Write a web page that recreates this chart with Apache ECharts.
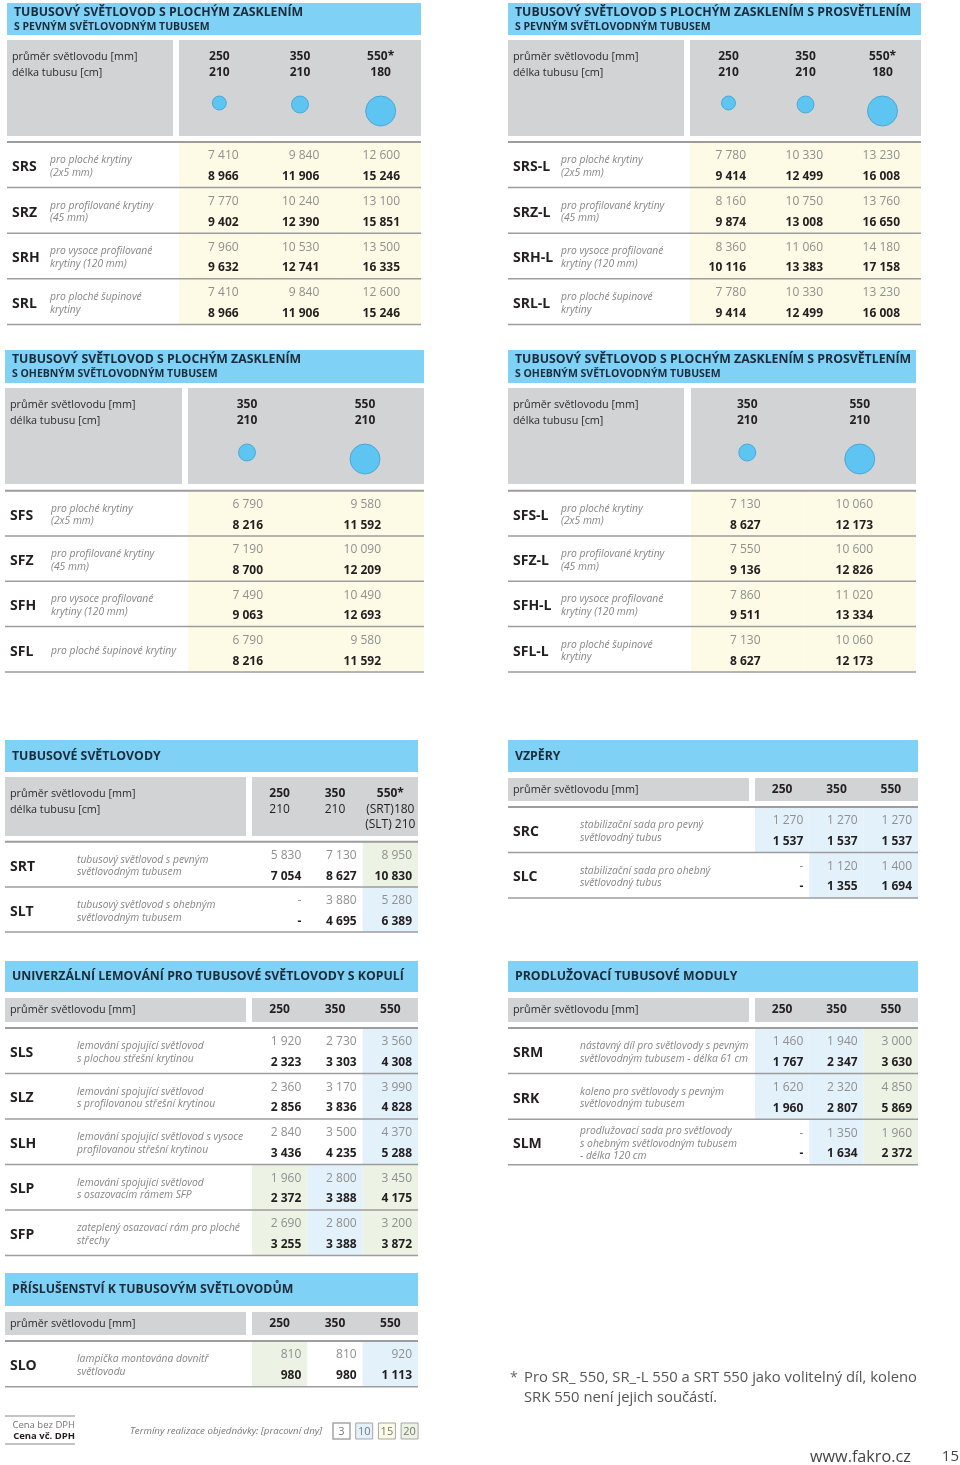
<!DOCTYPE html>
<html>
<head>
<meta charset="utf-8">
<script src="https://cdn.jsdelivr.net/npm/echarts@6.0.0/dist/echarts.min.js"></script>
<style>
  html, body { margin: 0; padding: 0; background: #fff; }
  #chart { width: 960px; height: 1465px; }
</style>
</head>
<body>
<div id="chart"></div>
<script>
// ---- data ----
const descFlat = ['pro ploché krytiny\n(2x5 mm)', 'pro profilované krytiny\n(45 mm)', 'pro vysoce profilované\nkrytiny (120 mm)', 'pro ploché šupinové\nkrytiny'];
const descFlex = ['pro ploché krytiny\n(2x5 mm)', 'pro profilované krytiny\n(45 mm)', 'pro vysoce profilované\nkrytiny (120 mm)', 'pro ploché šupinové krytiny'];

const sizesA = ['250', '350', '550*'];
const lengthsA = ['210', '210', '180'];
const codesA = ['SRS', 'SRZ', 'SRH', 'SRL'];
const netA = [[7410, 9840, 12600], [7770, 10240, 13100], [7960, 10530, 13500], [7410, 9840, 12600]];
const grossA = [[8966, 11906, 15246], [9402, 12390, 15851], [9632, 12741, 16335], [8966, 11906, 15246]];
const daysA = [[15, 15, 15], [15, 15, 15], [15, 15, 15], [15, 15, 15]];

const codesB = ['SRS-L', 'SRZ-L', 'SRH-L', 'SRL-L'];
const netB = [[7780, 10330, 13230], [8160, 10750, 13760], [8360, 11060, 14180], [7780, 10330, 13230]];
const grossB = [[9414, 12499, 16008], [9874, 13008, 16650], [10116, 13383, 17158], [9414, 12499, 16008]];

const sizesC = ['350', '550'];
const lengthsC = ['210', '210'];
const codesC = ['SFS', 'SFZ', 'SFH', 'SFL'];
const netC = [[6790, 9580], [7190, 10090], [7490, 10490], [6790, 9580]];
const grossC = [[8216, 11592], [8700, 12209], [9063, 12693], [8216, 11592]];
const daysC = [[15, 15], [15, 15], [15, 15], [15, 15]];

const codesD = ['SFS-L', 'SFZ-L', 'SFH-L', 'SFL-L'];
const netD = [[7130, 10060], [7550, 10600], [7860, 11020], [7130, 10060]];
const grossD = [[8627, 12173], [9136, 12826], [9511, 13334], [8627, 12173]];

const sizesE = ['250', '350', '550*'];
const lengthsE = ['210', '210', '(SRT)180\n(SLT) 210'];
const codesE = ['SRT', 'SLT'];
const descE = ['tubusový světlovod s pevným\nsvětlovodným tubusem', 'tubusový světlovod s ohebným\nsvětlovodným tubusem'];
const netE = [[5830, 7130, 8950], [null, 3880, 5280]];
const grossE = [[7054, 8627, 10830], [null, 4695, 6389]];
const daysE = [[3, 3, 20], [3, 3, 10]];

const sizes3 = ['250', '350', '550'];
const codesF = ['SRC', 'SLC'];
const descF = ['stabilizační sada pro pevný\nsvětlovodný tubus', 'stabilizační sada pro ohebný\nsvětlovodný tubus'];
const netF = [[1270, 1270, 1270], [null, 1120, 1400]];
const grossF = [[1537, 1537, 1537], [null, 1355, 1694]];
const daysF = [[10, 10, 10], [3, 10, 10]];

const codesG = ['SLS', 'SLZ', 'SLH', 'SLP', 'SFP'];
const descG = [
  'lemování spojující světlovod\ns plochou střešní krytinou',
  'lemování spojující světlovod\ns profilovanou střešní krytinou',
  'lemování spojující světlovod s vysoce\nprofilovanou střešní krytinou',
  'lemování spojující světlovod\ns osazovacím rámem SFP',
  'zateplený osazovací rám pro ploché\nstřechy'
];
const netG = [[1920, 2730, 3560], [2360, 3170, 3990], [2840, 3500, 4370], [1960, 2800, 3450], [2690, 2800, 3200]];
const grossG = [[2323, 3303, 4308], [2856, 3836, 4828], [3436, 4235, 5288], [2372, 3388, 4175], [3255, 3388, 3872]];
const daysG = [[3, 3, 10], [3, 3, 10], [3, 3, 10], [20, 10, 20], [20, 10, 20]];

const codesH = ['SRM', 'SRK', 'SLM'];
const descH = [
  'nástavný díl pro světlovody s pevným\nsvětlovodným tubusem - délka 61 cm',
  'koleno pro světlovody s pevným\nsvětlovodným tubusem',
  'prodlužovací sada pro světlovody\ns ohebným světlovodným tubusem\n- délka 120 cm'
];
const netH = [[1460, 1940, 3000], [1620, 2320, 4850], [null, 1350, 1960]];
const grossH = [[1767, 2347, 3630], [1960, 2807, 5869], [null, 1634, 2372]];
const daysH = [[10, 10, 20], [10, 10, 20], [3, 10, 20]];

const codesI = ['SLO'];
const descI = ['lampička montována dovnitř\nsvětlovodu'];
const netI = [[810, 810, 920]];
const grossI = [[980, 980, 1113]];
const daysI = [[20, 3, 10]];

const headLabels2 = ['průměr světlovodu [mm]', 'délka tubusu [cm]'];
const headLabels1 = ['průměr světlovodu [mm]'];
const legendDays = [3, 10, 15, 20];
const footnoteLines = ['Pro SR_ 550, SR_-L 550 a SRT 550 jako volitelný díl, koleno', 'SRK 550 není jejich součástí.'];

// ---- styles ----
const FONT = '"Open Sans", "Noto Sans", sans-serif';
const font = (size, weight, style) => (style || 'normal') + ' ' + (weight || 'normal') + ' ' + size + 'px ' + FONT;
const cellColor = { 3: '#ffffff', 10: '#e3f1fb', 15: '#fdfbe6', 20: '#edf3e4' };
const circleDiam = { 250: 14, 350: 17, 550: 30 };
const BAR = '#7fd1f6', GRAY = '#d1d3d4', LINE = '#9d9d9d';

const fmt = v => v == null ? '-' : String(v).replace(/\B(?=(\d{3})+(?!\d))/g, ' ');
const txt = (text, x, y, f, fill, align, valign) => ({
  type: 'text',
  style: { text: text, x: x, y: y, font: f, fill: fill, textAlign: align || 'left', align: align || 'left',
    textVerticalAlign: valign || 'middle', verticalAlign: valign || 'middle' }
});

// ---- tables ----
const tables = [
  { title: ['TUBUSOVÝ SVĚTLOVOD S PLOCHÝM ZASKLENÍM', 'S PEVNÝM SVĚTLOVODNÝM TUBUSEM'], sizes: sizesA, lengths: lengthsA, lenBold: true,
    codes: codesA, desc: descFlat, net: netA, gross: grossA, days: daysA, head: headLabels2, circles: true,
    left: 7, right: 421, split: 173, valueLeft: 179, titleTop: 3, titleBottom: 35, headTop: 40, headBottom: 136,
    rowTop: 142, rowH: 45.6, codeX: 12, descX: 50, valDx: 21 },
  { title: ['TUBUSOVÝ SVĚTLOVOD S PLOCHÝM ZASKLENÍM S PROSVĚTLENÍM', 'S PEVNÝM SVĚTLOVODNÝM TUBUSEM'], sizes: sizesA, lengths: lengthsA, lenBold: true,
    codes: codesB, desc: descFlat, net: netB, gross: grossB, days: daysA, head: headLabels2, circles: true,
    left: 508, right: 921, split: 684, valueLeft: 690, titleTop: 3, titleBottom: 35, headTop: 40, headBottom: 136,
    rowTop: 142, rowH: 45.6, codeX: 513, descX: 561, valDx: 21 },
  { title: ['TUBUSOVÝ SVĚTLOVOD S PLOCHÝM ZASKLENÍM', 'S OHEBNÝM SVĚTLOVODNÝM TUBUSEM'], sizes: sizesC, lengths: lengthsC, lenBold: true,
    codes: codesC, desc: descFlex, net: netC, gross: grossC, days: daysC, head: headLabels2, circles: true,
    left: 5, right: 424, split: 182, valueLeft: 188, titleTop: 350, titleBottom: 383, headTop: 388, headBottom: 484,
    rowTop: 490.7, rowH: 45.3, codeX: 10, descX: 51, valDx: 43 },
  { title: ['TUBUSOVÝ SVĚTLOVOD S PLOCHÝM ZASKLENÍM S PROSVĚTLENÍM', 'S OHEBNÝM SVĚTLOVODNÝM TUBUSEM'], sizes: sizesC, lengths: lengthsC, lenBold: true,
    codes: codesD, desc: descFlat, net: netD, gross: grossD, days: daysC, head: headLabels2, circles: true,
    left: 508, right: 916, split: 684, valueLeft: 691, titleTop: 350, titleBottom: 383, headTop: 388, headBottom: 484,
    rowTop: 490.7, rowH: 45.3, codeX: 513, descX: 561, valDx: 43 },
  { title: ['TUBUSOVÉ SVĚTLOVODY'], sizes: sizesE, lengths: lengthsE, lenBold: false,
    codes: codesE, desc: descE, net: netE, gross: grossE, days: daysE, head: headLabels2, circles: false,
    left: 5, right: 418, split: 246, valueLeft: 252, titleTop: 740, titleBottom: 772, headTop: 777, headBottom: 836,
    rowTop: 841.7, rowH: 45.2, codeX: 10, descX: 77, valDx: 6 },
  { title: ['VZPĚRY'], sizes: sizes3, lengths: null,
    codes: codesF, desc: descF, net: netF, gross: grossF, days: daysF, head: headLabels1, circles: false,
    left: 508, right: 918, split: 749, valueLeft: 755, titleTop: 740, titleBottom: 772, headTop: 778, headBottom: 801,
    rowTop: 807, rowH: 45.5, codeX: 513, descX: 580, valDx: 6 },
  { title: ['UNIVERZÁLNÍ LEMOVÁNÍ PRO TUBUSOVÉ SVĚTLOVODY S KOPULÍ'], sizes: sizes3, lengths: null,
    codes: codesG, desc: descG, net: netG, gross: grossG, days: daysG, head: headLabels1, circles: false,
    left: 5, right: 418, split: 246, valueLeft: 252, titleTop: 961, titleBottom: 992, headTop: 998, headBottom: 1022,
    rowTop: 1028, rowH: 45.5, codeX: 10, descX: 77, valDx: 6 },
  { title: ['PRODLUŽOVACÍ TUBUSOVÉ MODULY'], sizes: sizes3, lengths: null,
    codes: codesH, desc: descH, net: netH, gross: grossH, days: daysH, head: headLabels1, circles: false,
    left: 508, right: 918, split: 749, valueLeft: 755, titleTop: 961, titleBottom: 992, headTop: 998, headBottom: 1022,
    rowTop: 1028, rowH: 45.6, codeX: 513, descX: 580, valDx: 6 },
  { title: ['PŘÍSLUŠENSTVÍ K TUBUSOVÝM SVĚTLOVODŮM'], sizes: sizes3, lengths: null,
    codes: codesI, desc: descI, net: netI, gross: grossI, days: daysI, head: headLabels1, circles: false,
    left: 5, right: 418, split: 246, valueLeft: 252, titleTop: 1273, titleBottom: 1306, headTop: 1312, headBottom: 1335,
    rowTop: 1341, rowH: 45.7, codeX: 10, descX: 77, valDx: 6 }
];

const grids = [], xAxes = [], yAxes = [], series = [], graphics = [];

tables.forEach((t, i) => {
  const nRows = t.codes.length;
  grids.push({ left: t.valueLeft, top: t.rowTop, width: t.right - t.valueLeft, height: t.rowH * nRows });
  xAxes.push({ type: 'category', gridIndex: i, data: t.sizes, show: false });
  yAxes.push({ type: 'category', gridIndex: i, data: t.codes, inverse: true, show: false });

  // title bar, grey header boxes, header labels
  graphics.push({ type: 'rect', shape: { x: t.left, y: t.titleTop, width: t.right - t.left, height: t.titleBottom - t.titleTop }, style: { fill: BAR } });
  if (t.title.length === 2) {
    graphics.push(txt(t.title[0], t.left + 7, t.titleTop + 9.5, font(12.3, 'bold'), '#1c2b39'));
    graphics.push(txt(t.title[1], t.left + 7, t.titleTop + 24, font(10.5, 'bold'), '#1c2b39'));
  } else {
    graphics.push(txt(t.title[0], t.left + 7, (t.titleTop + t.titleBottom) / 2, font(12.3, 'bold'), '#1c2b39'));
  }
  graphics.push({ type: 'rect', shape: { x: t.left, y: t.headTop, width: t.split - t.left, height: t.headBottom - t.headTop }, style: { fill: GRAY } });
  graphics.push({ type: 'rect', shape: { x: t.valueLeft, y: t.headTop, width: t.right - t.valueLeft, height: t.headBottom - t.headTop }, style: { fill: GRAY } });
  t.head.forEach((h, k) => {
    const y = t.head.length > 1 ? t.headTop + 17 + k * 15.5 : (t.headTop + t.headBottom) / 2;
    graphics.push(txt(h, t.left + 5, y, font(10.8), '#2b2b2b'));
  });

  // cells
  const cells = [];
  t.net.forEach((row, r) => row.forEach((v, c) => cells.push([c, r])));
  series.push({
    type: 'custom', xAxisIndex: i, yAxisIndex: i, data: cells, silent: true, z: 2,
    renderItem: (params, api) => {
      const c = cells[params.dataIndex][0], r = cells[params.dataIndex][1];
      const p = api.coord([c, r]), s = api.size([1, 1]);
      const top = p[1] - s[1] / 2, xr = p[0] + s[0] / 2 - t.valDx;
      return { type: 'group', children: [
        { type: 'rect', shape: { x: p[0] - s[0] / 2, y: top, width: s[0], height: s[1] }, style: { fill: cellColor[t.days[r][c]] } },
        txt(fmt(t.net[r][c]), xr, top + 14, font(12), '#8f8f8f', 'right'),
        txt(fmt(t.gross[r][c]), xr, top + 34.5, font(12, 'bold'), '#231f20', 'right')
      ] };
    }
  });

  // row labels and separators
  const rows = t.codes.map((code, r) => [0, r]);
  series.push({
    type: 'custom', xAxisIndex: i, yAxisIndex: i, data: rows, silent: true, z: 3,
    renderItem: (params, api) => {
      const r = params.dataIndex;
      const p = api.coord([0, r]), s = api.size([1, 1]);
      const top = p[1] - s[1] / 2;
      const desc = txt(t.desc[r], t.descX, top + 24.5, font(10.3, 'normal', 'italic'), '#858585');
      desc.style.lineHeight = 12.7;
      const ch = [
        txt(t.codes[r], t.codeX, top + 25, font(14, 'bold'), '#231f20'),
        desc,
        { type: 'line', shape: { x1: t.left, y1: top + s[1], x2: t.right, y2: top + s[1] }, style: { stroke: LINE, lineWidth: 1.5 } }
      ];
      if (r === 0) ch.push({ type: 'line', shape: { x1: t.left, y1: top, x2: t.right, y2: top }, style: { stroke: LINE, lineWidth: 2 } });
      return { type: 'group', children: ch };
    }
  });

  // column headers (size, tube length, circle)
  const cols = t.sizes.map((sz, c) => [c, 0]);
  series.push({
    type: 'custom', xAxisIndex: i, yAxisIndex: i, data: cols, silent: true, z: 3,
    renderItem: (params, api) => {
      const c = params.dataIndex;
      const x = api.coord([c, 0])[0];
      const ch = [];
      if (t.lengths) {
        const lines = [t.sizes[c]].concat(t.lengths[c].split('\n'));
        lines.forEach((l, k) => ch.push(txt(l, x, t.headTop + 17 + k * 15.5, font(12, k === 0 || t.lenBold ? 'bold' : 'normal'), '#231f20', 'center')));
      } else {
        ch.push(txt(t.sizes[c], x, (t.headTop + t.headBottom) / 2, font(12, 'bold'), '#231f20', 'center'));
      }
      if (t.circles) {
        const d = circleDiam[parseInt(t.sizes[c], 10)];
        ch.push({ type: 'circle', shape: { cx: x, cy: t.headTop + 56 + d / 2, r: d / 2 }, style: { fill: '#5ec5f2', stroke: '#3b9fd1', lineWidth: 0.8 } });
      }
      return { type: 'group', children: ch };
    }
  });
});

// ---- footer ----
graphics.push({ type: 'line', shape: { x1: 5, y1: 1416, x2: 75, y2: 1416 }, style: { stroke: '#8a8a8a', lineWidth: 1 } });
graphics.push(txt('Cena bez DPH', 75, 1425, font(9.5), '#777', 'right'));
graphics.push(txt('Cena vč. DPH', 75, 1436, font(9.5, 'bold'), '#231f20', 'right'));
graphics.push({ type: 'line', shape: { x1: 5, y1: 1444, x2: 75, y2: 1444 }, style: { stroke: '#8a8a8a', lineWidth: 1 } });
graphics.push(txt('Termíny realizace objednávky: [pracovní dny]', 130, 1431, font(9.7, 'normal', 'italic'), '#777'));
legendDays.forEach((d, k) => {
  const x = 333 + k * 22.7;
  graphics.push({ type: 'rect', shape: { x: x, y: 1423, width: 17, height: 16 }, style: { fill: cellColor[d], stroke: '#a5a5a5', lineWidth: k === 0 ? 1.5 : 1 } });
  graphics.push(txt(String(d), x + 8.5, 1431.5, font(11), '#777', 'center'));
});
graphics.push(txt('*', 510, 1378, font(14), '#666'));
footnoteLines.forEach((l, k) => graphics.push(txt(l, 524, 1378 + k * 20, font(14.8), '#555')));
graphics.push(txt('www.fakro.cz', 810, 1457, font(16.2), '#444'));
graphics.push(txt('15', 959, 1457, font(15), '#444', 'right'));

const chart = echarts.init(document.getElementById('chart'), null, { renderer: 'canvas' });
chart.setOption({
  animation: false,
  backgroundColor: '#ffffff',
  grid: grids,
  xAxis: xAxes,
  yAxis: yAxes,
  series: series,
  graphic: { elements: graphics }
});
</script>
</body>
</html>
